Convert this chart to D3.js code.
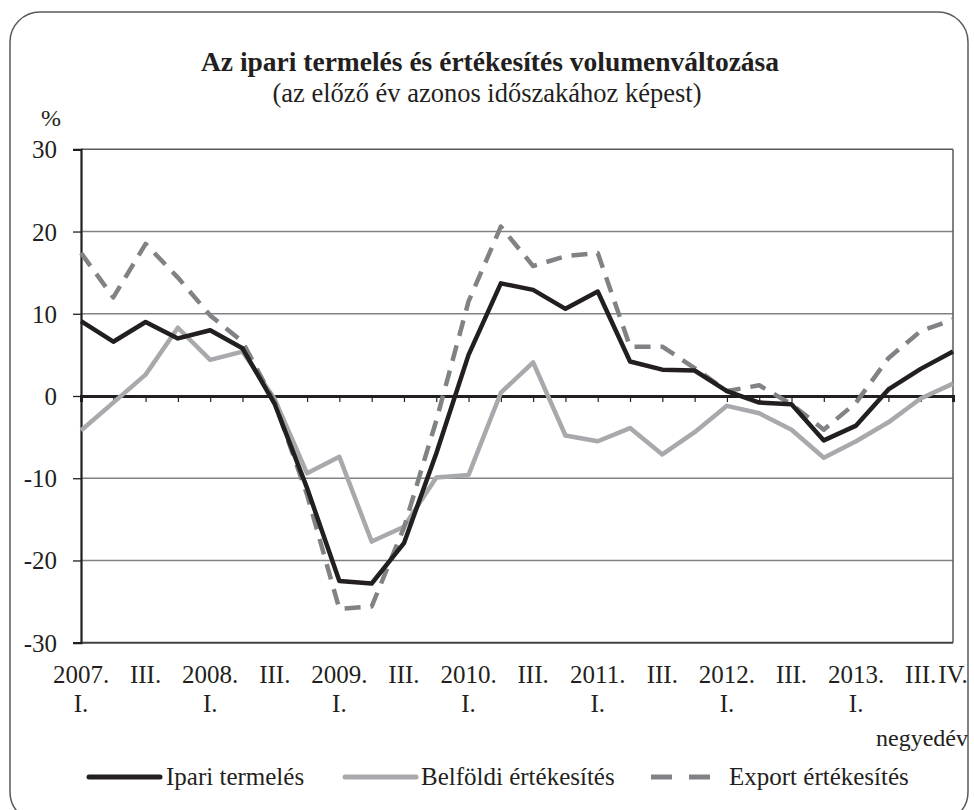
<!DOCTYPE html>
<meta charset="utf-8">
<style>
body{margin:0;background:#fff;}
text{font-family:"Liberation Serif","DejaVu Serif",serif;fill:#231f20;}
</style>
<body>
<div id="chart"></div>
<script src="https://d3js.org/d3.v7.min.js"></script>
<script>
// quarters 2007 I. - 2013 IV.
var categories = [
  "2007. I.","2007. II.","2007. III.","2007. IV.",
  "2008. I.","2008. II.","2008. III.","2008. IV.",
  "2009. I.","2009. II.","2009. III.","2009. IV.",
  "2010. I.","2010. II.","2010. III.","2010. IV.",
  "2011. I.","2011. II.","2011. III.","2011. IV.",
  "2012. I.","2012. II.","2012. III.","2012. IV.",
  "2013. I.","2013. II.","2013. III.","2013. IV."
];
var ipari = [9.1, 6.6, 9.0, 7.0, 8.0, 5.8, -1.0, -11.2, -22.5, -22.8, -17.9, -7.0, 5.0, 13.7,
             12.9, 10.6, 12.7, 4.2, 3.2, 3.1, 0.6, -0.8, -1.0, -5.4, -3.6, 0.8, 3.3, 5.4];
var belfoldi = [-4.2, -0.8, 2.6, 8.3, 4.4, 5.4, -0.4, -9.4, -7.4, -17.7, -15.9, -9.9, -9.6, 0.4,
                4.1, -4.8, -5.5, -3.9, -7.1, -4.4, -1.2, -2.1, -4.1, -7.5, -5.5, -3.2, -0.3, 1.5];
var exportErt = [17.4, 12.0, 18.5, 14.4, 9.8, 6.6, -0.8, -12.0, -25.9, -25.6, -16.0, -3.0, 11.5, 20.6,
                 15.8, 17.0, 17.4, 6.0, 6.0, 3.4, 0.6, 1.3, -1.0, -4.1, -0.8, 4.6, 7.9, 9.3];
var yTicks = [30, 20, 10, 0, -10, -20, -30];
var seriesNames = ["Ipari termelés", "Belföldi értékesítés", "Export értékesítés"];

var W = 974, H = 810;
var svg = d3.select("#chart").append("svg")
  .attr("width", W).attr("height", H);

// outer frame
svg.append("rect")
  .attr("x", 10).attr("y", 12).attr("width", 958).attr("height", 810)
  .attr("rx", 30).attr("ry", 30)
  .attr("fill", "none").attr("stroke", "#58595b").attr("stroke-width", 1.5);

svg.append("text").attr("x", 490).attr("y", 71).attr("text-anchor", "middle")
  .style("font-size", "27.5px").style("font-weight", "bold")
  .text("Az ipari termelés és értékesítés volumenváltozása");
svg.append("text").attr("x", 487).attr("y", 102).attr("text-anchor", "middle")
  .style("font-size", "26.5px")
  .text("(az előző év azonos időszakához képest)");
svg.append("text").attr("x", 51).attr("y", 126).attr("text-anchor", "middle")
  .style("font-size", "24px").text("%");

var x = d3.scaleLinear().domain([0, categories.length - 1]).range([81, 953]);
var y = d3.scaleLinear().domain([-30, 30]).range([642.7, 149.3]);

// gridlines
svg.append("g").selectAll("line")
  .data(yTicks.filter(function(d) { return d != 0 && d != -30 && d != 30; }))
  .enter().append("line")
  .attr("x1", x(0)).attr("x2", x(27))
  .attr("y1", function(d) { return y(d); }).attr("y2", function(d) { return y(d); })
  .attr("stroke", "#808285").attr("stroke-width", 1.5);

// plot box: top, right, bottom
svg.append("line").attr("x1", x(0)).attr("x2", x(27)).attr("y1", y(30)).attr("y2", y(30))
  .attr("stroke", "#58595b").attr("stroke-width", 1.5);
svg.append("line").attr("x1", x(27)).attr("x2", x(27)).attr("y1", y(30)).attr("y2", y(-30))
  .attr("stroke", "#58595b").attr("stroke-width", 1.5);
svg.append("line").attr("x1", x(0)).attr("x2", x(27)).attr("y1", y(-30)).attr("y2", y(-30))
  .attr("stroke", "#414042").attr("stroke-width", 2);

// y axis
var yAxis = d3.axisLeft(y).tickValues(yTicks).tickSize(8)
  .tickFormat(function(d) { return String(d); });
var gy = svg.append("g").attr("transform", "translate(" + x(0) + ",0)").call(yAxis);
gy.select(".domain").attr("stroke", "#231f20").attr("stroke-width", 2.2);
gy.selectAll(".tick line").attr("stroke", "#231f20").attr("stroke-width", 1.3);
gy.selectAll(".tick text").attr("x", -24).attr("dy", "0.34em")
  .style("font-size", "25px").style("font-family", "Liberation Serif").attr("fill", "#231f20");

// zero line with quarter ticks
var xAxis = d3.axisBottom(x).tickValues(d3.range(categories.length)).tickSize(6).tickFormat("");
var gx = svg.append("g").attr("transform", "translate(0," + y(0) + ")").call(xAxis);
gx.select(".domain").attr("stroke", "#231f20").attr("stroke-width", 3);
gx.selectAll(".tick line").attr("stroke", "#231f20").attr("stroke-width", 1.2);

// category labels
var lab = svg.append("g").selectAll("text")
  .data(categories.map(function(c, i) { return {c: c, i: i}; })
    .filter(function(d) { return d.i % 2 == 0 || d.i == categories.length - 1; }))
  .enter().append("text")
  .attr("text-anchor", "middle").style("font-size", "25px");
lab.each(function(d) {
  var parts = d.c.split(" ");
  var t = d3.select(this);
  if (parts[1] == "I.") {
    t.append("tspan").attr("x", x(d.i)).attr("y", 683).text(parts[0]);
    t.append("tspan").attr("x", x(d.i)).attr("y", 712).text(parts[1]);
  } else {
    t.append("tspan").attr("x", x(d.i)).attr("y", 683).text(parts[1]);
  }
});
svg.append("text").attr("x", 968).attr("y", 746).attr("text-anchor", "end")
  .style("font-size", "24px").text("negyedév");

// series
var styles = [
  {data: ipari, color: "#231f20", dash: null},
  {data: belfoldi, color: "#a7a9ac", dash: null},
  {data: exportErt, color: "#808285", dash: "16,10"}
];
var line = d3.line().x(function(d, i) { return x(i); }).y(function(d) { return y(d); });
[1, 2, 0].forEach(function(k) {
  var s = styles[k];
  svg.append("path").datum(s.data)
    .attr("d", line).attr("fill", "none")
    .attr("stroke", s.color).attr("stroke-width", 4.5)
    .attr("stroke-linejoin", "round")
    .attr("stroke-dasharray", s.dash);
});

// legend
var legX = [89, 345, 651];
var legText = [166, 421, 729];
var leg = svg.append("g").selectAll("g").data(seriesNames).enter().append("g");
leg.append("line")
  .attr("x1", function(d, i) { return legX[i]; })
  .attr("x2", function(d, i) { return legX[i] + (i == 2 ? 61 : 71); })
  .attr("y1", 777).attr("y2", 777)
  .attr("stroke", function(d, i) { return styles[i].color; })
  .attr("stroke-width", 5)
  .attr("stroke-linecap", function(d, i) { return i == 2 ? "butt" : "round"; })
  .attr("stroke-dasharray", function(d, i) { return i == 2 ? "21,17" : null; });
leg.append("text")
  .attr("x", function(d, i) { return legText[i]; })
  .attr("y", 785).style("font-size", "25px")
  .text(function(d) { return d; });
</script>
</body>
